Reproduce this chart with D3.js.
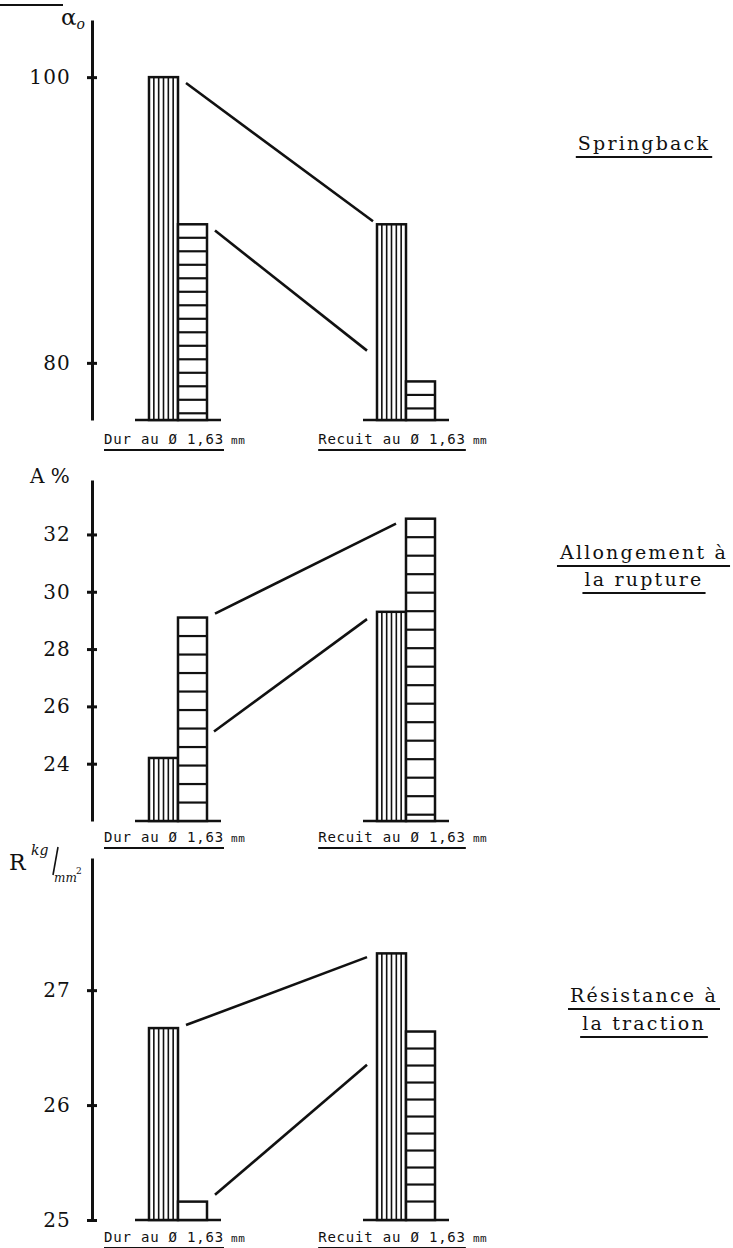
<!DOCTYPE html>
<html><head><meta charset="utf-8">
<script src="https://cdn.jsdelivr.net/npm/d3@7"></script>
<style>body{margin:0;background:#fff}svg{display:block}</style>
</head><body><div id="chart"></div>
<script>
// ---------- DATA ----------
const categories = ["Dur", "Recuit"];
const categoryLabels = ["Dur au Ø 1,63", "Recuit au Ø 1,63"];
const unitLabel = "mm";
const series = ["vertical", "horizontal"]; // hatch style of each series

const springbackVertical = [100, 89.7];
const springbackHorizontal = [89.7, 78.7];
const springbackTicks = [80, 100];

const allongementVertical = [24.2, 29.3];
const allongementHorizontal = [29.1, 32.55];
const allongementTicks = [24, 26, 28, 30, 32];

const resistanceVertical = [26.67, 27.32];
const resistanceHorizontal = [25.16, 26.64];
const resistanceTicks = [25, 26, 27];

const titles = [["Springback"], ["Allongement à", "la rupture"], ["Résistance à", "la traction"]];

// ---------- LAYOUT ----------
const W = 733, H = 1248;
const svg = d3.select("#chart").append("svg").attr("width", W).attr("height", H)
  .style("background", "#fff");
const ink = "#111";
const axisX = 92;

const panels = [
  {values: {vertical: springbackVertical, horizontal: springbackHorizontal}, ticks: springbackTicks,
   domain: [76, 104], top: 20, base: 420, labelY: 444, titleY: [150], hatch: 13.5, endGap: 4},
  {values: {vertical: allongementVertical, horizontal: allongementHorizontal}, ticks: allongementTicks,
   domain: [22, 33.9], top: 480, base: 821, labelY: 842, titleY: [559, 586], hatch: 18.5, endGap: 10},
  {values: {vertical: resistanceVertical, horizontal: resistanceHorizontal}, ticks: resistanceTicks,
   domain: [25, 28.15], top: 858, base: 1220, labelY: 1242, titleY: [1002, 1030], hatch: 17, endGap: 10}
];

const x0 = d3.scalePoint().domain(categories).range([178, 406]);
const x1 = d3.scaleBand().domain(series).range([-29, 29]).paddingInner(0);
const bw = x1.bandwidth();

// decorative stroke top-left
svg.append("line").attr("x1", 0).attr("x2", 63).attr("y1", 5).attr("y2", 5)
  .attr("stroke", ink).attr("stroke-width", 2);

panels.forEach((p, pi) => {
  const y = d3.scaleLinear().domain(p.domain).range([p.base, p.top]);
  const g = svg.append("g");

  // axis
  const ax = g.append("g").attr("transform", `translate(${axisX},0)`)
    .call(d3.axisLeft(y).tickValues(p.ticks).tickSize(0).tickPadding(21).tickFormat(d3.format("d")).tickSizeOuter(0));
  ax.select(".domain").attr("stroke", ink).attr("stroke-width", 3);
  ax.selectAll(".tick line").attr("x1", -5).attr("x2", 5).attr("stroke", ink).attr("stroke-width", 3);
  ax.selectAll(".tick text").attr("fill", ink).style("font-family", "DejaVu Serif")
    .style("font-size", "20px").style("letter-spacing", "1.2px");

  // baselines under each group
  categories.forEach(c => {
    g.append("line").attr("x1", x0(c) - 43).attr("x2", x0(c) + 43)
      .attr("y1", p.base).attr("y2", p.base).attr("stroke", ink).attr("stroke-width", 2.5);
  });

  // bars
  categories.forEach((c, ci) => {
    series.forEach(s => {
      const v = p.values[s][ci];
      const bx = x0(c) + x1(s), top = y(v);
      const bg = g.append("g");
      bg.append("rect").attr("x", bx).attr("y", top).attr("width", bw).attr("height", p.base - top)
        .attr("fill", "#fff").attr("stroke", ink).attr("stroke-width", 2.5);
      if (s === "vertical") {
        d3.range(1, 6).forEach(k => {
          const xx = bx + bw * k / 6;
          bg.append("line").attr("x1", xx).attr("x2", xx).attr("y1", top).attr("y2", p.base)
            .attr("stroke", ink).attr("stroke-width", 1.6);
        });
      } else {
        for (let yy = top + p.hatch; yy < p.base - 4; yy += p.hatch) {
          bg.append("line").attr("x1", bx).attr("x2", bx + bw).attr("y1", yy).attr("y2", yy)
            .attr("stroke", ink).attr("stroke-width", 2.2);
        }
      }
    });
  });

  // connecting lines
  series.forEach(s => {
    const vals = p.values[s];
    const P = {x: x0("Dur") + x1(s) + bw, y: y(vals[0])};
    const Q = {x: x0("Recuit") + x1(s), y: y(vals[1])};
    const ly = xx => P.y + (Q.y - P.y) * (xx - P.x) / (Q.x - P.x);
    let sx = P.x + 8, ex = Q.x - p.endGap;
    series.forEach(t => {
      const bx0 = x0("Dur") + x1(t), bx1 = bx0 + bw, top = y(p.values[t][0]);
      if (bx0 >= P.x - 1 && top < ly(bx1)) sx = Math.max(sx, bx1 + 7);
      const rx0 = x0("Recuit") + x1(t), rx1 = rx0 + bw, rtop = y(p.values[t][1]);
      if (rx1 <= Q.x + 1 && rtop < ly(rx0)) ex = Math.min(ex, rx0 - 10);
    });
    g.append("line").attr("x1", sx).attr("y1", ly(sx)).attr("x2", ex).attr("y2", ly(ex))
      .attr("stroke", ink).attr("stroke-width", 2.6);
  });

  // category labels
  categories.forEach((c, ci) => {
    const t = g.append("text").attr("y", p.labelY).attr("fill", ink)
      .style("font-family", "DejaVu Sans Mono").style("font-size", "14px").style("letter-spacing", "0.8px");
    const main = t.append("tspan").text(categoryLabels[ci]);
    t.append("tspan").text(" " + unitLabel).style("font-size", "11px").style("letter-spacing", "0.5px");
    const len = main.node().getComputedTextLength();
    const sx = x0(c) - len / 2 - 14;
    t.attr("x", sx);
    g.append("line").attr("x1", sx).attr("x2", sx + len).attr("y1", p.labelY + 6).attr("y2", p.labelY + 6)
      .attr("stroke", ink).attr("stroke-width", 2);
  });

  // titles at right
  titles[pi].forEach((line, li) => {
    const ty = p.titleY[li];
    const t = g.append("text").attr("x", 644).attr("y", ty).attr("text-anchor", "middle")
      .attr("fill", ink).style("font-family", "DejaVu Serif").style("font-size", "19px")
      .style("letter-spacing", "2.2px").text(line);
    const bb = t.node().getBBox();
    g.append("line").attr("x1", bb.x - 2).attr("x2", bb.x + bb.width + 2).attr("y1", ty + 7).attr("y2", ty + 7)
      .attr("stroke", ink).attr("stroke-width", 1.8);
  });
});

// axis unit labels
const serif = "DejaVu Serif";
const a = svg.append("text").attr("x", 61).attr("y", 25).attr("fill", ink).style("font-family", serif).style("font-size", "23px");
a.append("tspan").text("α");
a.append("tspan").text("o").attr("dy", 4).style("font-size", "14px").style("font-style", "italic");

svg.append("text").attr("x", 30).attr("y", 483).attr("fill", ink).style("font-family", serif)
  .style("font-size", "20px").text("A %");

const r = svg.append("g").attr("fill", ink).style("font-family", serif);
r.append("text").attr("x", 9).attr("y", 870).style("font-size", "22px").text("R");
r.append("text").attr("x", 31).attr("y", 855).style("font-size", "14px").style("font-style", "italic").text("kg");
r.append("line").attr("x1", 58).attr("y1", 847).attr("x2", 53).attr("y2", 875).attr("stroke", ink).attr("stroke-width", 1.6);
r.append("text").attr("x", 54).attr("y", 882).style("font-size", "12px").style("font-style", "italic").text("mm");
r.append("text").attr("x", 76).attr("y", 874).style("font-size", "9px").text("2");
</script></body></html>
